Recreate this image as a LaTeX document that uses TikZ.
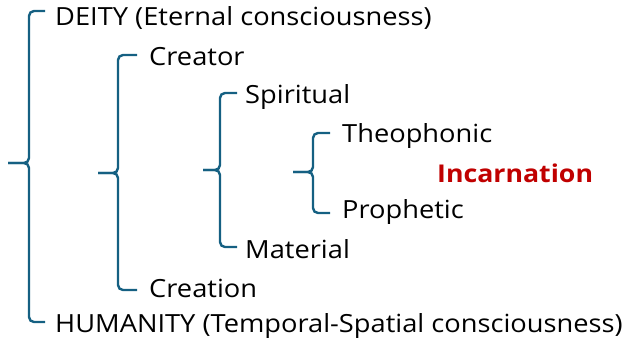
\documentclass[tikz,border=0pt]{standalone}
\usepackage{fontspec}
\setmainfont{Open Sans}[FakeStretch=1.09]
\definecolor{bracecol}{HTML}{156082}
\definecolor{redtxt}{HTML}{C00000}
\newcommand{\mybrace}[6]{% x, top, bottom, mid, hookend, tip
  \draw[bracestyle] (#5,#2) -- (#1,#2) -- (#1,#4) -- (#6,#4);
  \draw[bracestyle] (#5,#3) -- (#1,#3) -- (#1,#4) -- (#6,#4);
}
\begin{document}
\begin{tikzpicture}[x=1pt,y=-1pt,
  bracestyle/.style={draw=bracecol,line width=2.4pt,rounded corners=5pt},
  lbl/.style={anchor=base west,inner sep=0pt,font=\fontsize{25}{30}\selectfont},
  hl/.style={lbl,font=\fontsize{24.5}{30}\selectfont\bfseries,text=redtxt}]
\useasboundingbox (0,0) rectangle (634,341);
\mybrace{29}{11}{322}{163}{45}{8}
\mybrace{118}{55}{290}{173}{137}{98}
\mybrace{220}{93}{247}{170}{237}{203}
\mybrace{313}{133}{213}{172}{330}{293}
\node[lbl] (deity) at (55,25) {DEITY (Eternal consciousness)};
\node[lbl] (humanity) at (55,332) {HUMANITY (Temporal-Spatial consciousness)};
\node[lbl] (creator) at (149,65) {Creator};
\node[lbl] (creation) at (149,297) {Creation};
\node[lbl] (spiritual) at (245,103) {Spiritual};
\node[lbl] (material) at (245,258) {Material};
\node[lbl] (theo) at (342,142) {Theophonic};
\node[lbl] (proph) at (342,218) {Prophetic};
\node[hl] (inc) at (437,182) {Incarnation};
\end{tikzpicture}
\end{document}
